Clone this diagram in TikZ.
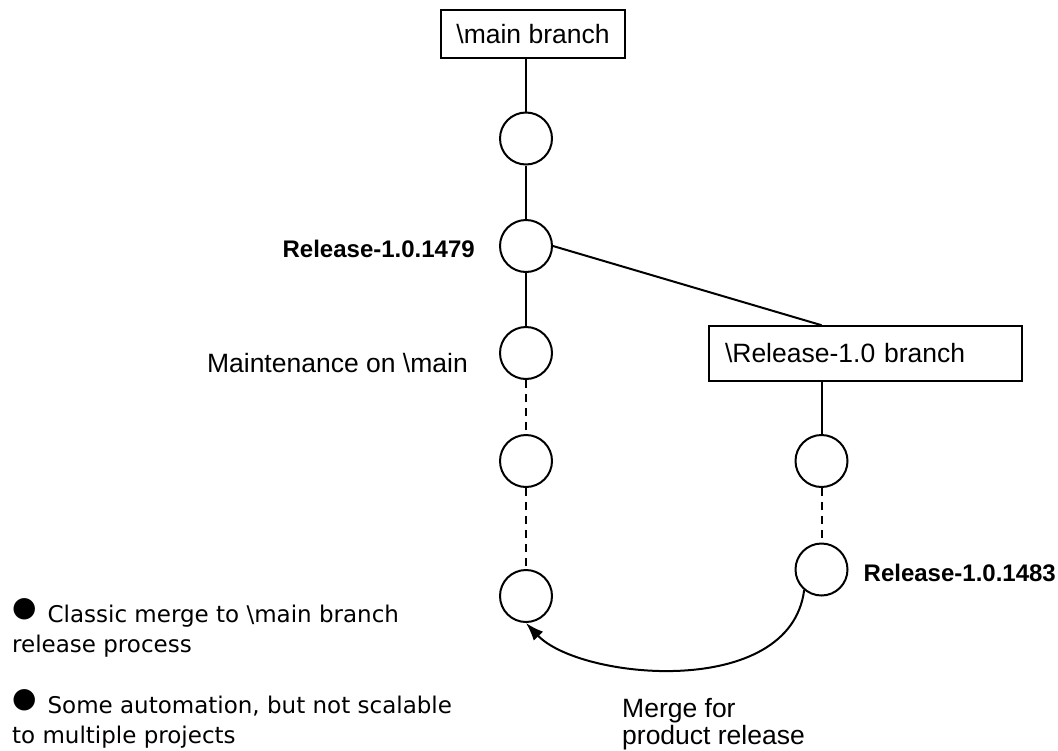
\documentclass[tikz,border=0pt]{standalone}
\usepackage{fontspec}
\setmainfont{Liberation Sans}
\newfontfamily\notefont{DejaVu Sans}
\usetikzlibrary{positioning,arrows.meta}
\newcommand{\dotmark}{\smash{\raisebox{6pt}{\fontsize{28}{28}\selectfont ●}}}

\begin{document}
\begin{tikzpicture}[x=1pt, y=-1pt, >={Latex[length=18pt,width=13pt]},
  link/.style={line width=2pt},
  dashlink/.style={line width=2pt, dash pattern=on 8pt off 6pt},
  commit/.style={circle, draw, line width=2pt, minimum size=52pt, inner sep=0pt},
  brbox/.style={draw, line width=1.6pt, minimum height=48pt, font=\fontsize{26.5}{30}\selectfont},
  lbl/.style={inner sep=0pt, font=\fontsize{26.5}{27}\selectfont},
  rel/.style={inner sep=0pt, font=\fontsize{24}{28}\selectfont\bfseries},
  note/.style={align=left, inner sep=0pt, anchor=north west, font=\notefont\fontsize{23}{30}\selectfont}]
	\useasboundingbox (0,0) rectangle (1058,750);
	% branch boxes
	\node[brbox, minimum width=184pt] (mainbr) at (533,34) {\textbackslash main branch};
	\node[brbox, minimum height=55pt, text width=281pt, inner xsep=16pt, align=left] (relbr) at (865.5,353.5) {\textbackslash Release-1.0 branch};
	% commits
	\foreach \n/\y in {m1/138.5, m2/246, m3/353, m4/461, m5/596}{
		\node[commit] (\n) at (526,\y) {};
	}
	\node[commit] (r1) at (821.5,461) {};
	\node[commit] (r2) at (821.5,569.5) {};
	% history lines
	\draw[link] (mainbr.south -| m1) -- (m1) -- (m2) -- (m3);
	\draw[dashlink] (m3) -- (m4) -- (m5);
	\draw[link] (m2.east) -- (relbr.north -| r1);
	\draw[link] (relbr.south -| r1) -- (r1);
	\draw[dashlink] (r1) -- (r2);
	\draw[link, ->] (r2.-130) .. controls (790,700) and (580,680) .. (m5.south);
	% labels
	\node[rel, left=24pt of m2, yshift=-3pt] (tag1479) {Release-1.0.1479};
	\node[lbl, left=31pt of m3, yshift=-10pt] (maint) {Maintenance on \textbackslash main};
	\node[rel, right=15pt of r2, yshift=-3.5pt] (tag1483) {Release-1.0.1483};
	\node[lbl, align=left, anchor=north west] (mergenote) at (622,698) {Merge for\\product release};
	\node[note] (note1) at (12,604.5) {\dotmark\hspace{11pt}Classic merge to \textbackslash main branch\\release process};
	\node[note] (note2) at (12,695.5) {\dotmark\hspace{11pt}Some automation, but not scalable\\to multiple projects};
\end{tikzpicture}
\end{document}
